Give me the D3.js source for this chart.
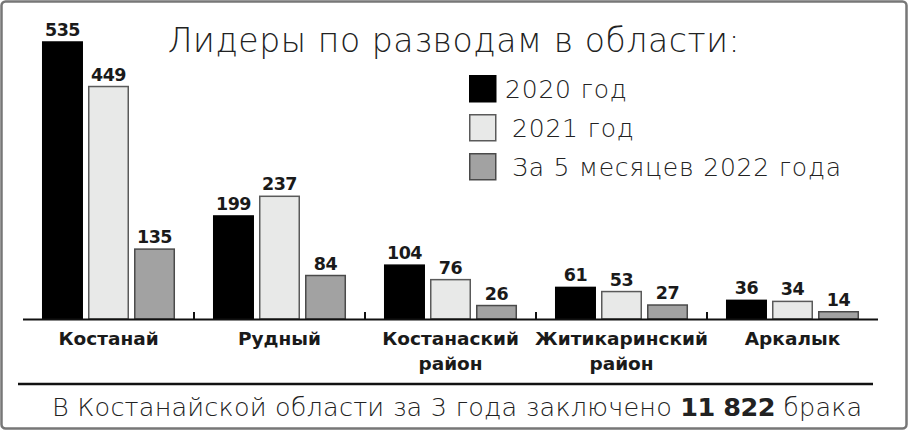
<!DOCTYPE html>
<html>
<head>
<meta charset="utf-8">
<script src="https://cdn.jsdelivr.net/npm/d3@7"></script>
<style>
  body { margin: 0; background: #fff; }
  svg { display: block; }
</style>
</head>
<body>
<svg id="chart" width="910" height="432"></svg>
<script>
// data
var categories = ["Костанай", "Рудный", "Костанаский район", "Житикаринский район", "Аркалык"];
var cat_lines = [["Костанай"], ["Рудный"], ["Костанаский", "район"], ["Житикаринский", "район"], ["Аркалык"]];
var series = ["2020 год", "2021 год", "За 5 месяцев 2022 года"];
var values_2020 = [535, 199, 104, 61, 36];
var values_2021 = [449, 237, 76, 53, 34];
var values_2022 = [135, 84, 26, 27, 14];
var title = "Лидеры по разводам в области:";

var all_values = [values_2020, values_2021, values_2022];
var fills = ["#000000", "#e8e9e8", "#a2a2a2"];
var strokes = ["#000000", "#5a5a5a", "#4a4a4a"];
var heavy = "'DejaVu Sans', sans-serif";
var light = "'DejaVu Sans', sans-serif";

var svg = d3.select("#chart");

// frame
svg.append("rect")
  .attr("x", 1.5).attr("y", 1.5)
  .attr("width", 905).attr("height", 427)
  .attr("rx", 4)
  .attr("fill", "none")
  .attr("stroke", "#777")
  .attr("stroke-width", 2.5);

var x0 = d3.scaleBand().domain(categories).range([23, 878])
  .paddingInner(0.222).paddingOuter(0.111);
var x1 = d3.scaleBand().domain(series).range([0, x0.bandwidth()]).paddingInner(0.109);
var y = d3.scaleLinear().domain([0, 535]).range([319, 42]);

// bars
for (var s = 0; s < series.length; s++){
    var g = svg.append("g");
    g.selectAll("rect")
      .data(all_values[s])
      .enter()
      .append("rect")
      .attr("x", function(d, i){ return x0(categories[i]) + x1(series[s]) + 0.75; })
      .attr("y", function(d){ return y(d); })
      .attr("width", x1.bandwidth() - 1.5)
      .attr("height", function(d){ return y(0) - y(d); })
      .attr("fill", fills[s])
      .attr("stroke", strokes[s])
      .attr("stroke-width", 1.5);

    g.selectAll("text")
      .data(all_values[s])
      .enter()
      .append("text")
      .text(function(d){ return d; })
      .attr("x", function(d, i){ return x0(categories[i]) + x1(series[s]) + x1.bandwidth() / 2; })
      .attr("y", function(d){ return y(d) - 6; })
      .attr("text-anchor", "middle")
      .attr("font-family", heavy)
      .attr("font-weight", "bold")
      .attr("font-size", 17.5)
      .attr("letter-spacing", -0.5)
      .attr("fill", "#1a1a1a");
}

// baseline and group ticks
svg.append("line")
  .attr("x1", 23).attr("x2", 878)
  .attr("y1", y(0) + 0.5).attr("y2", y(0) + 0.5)
  .attr("stroke", "#111").attr("stroke-width", 2);

var step = x0.step();
svg.selectAll(".sep")
  .data(categories.slice(0, categories.length - 1))
  .enter()
  .append("line")
  .attr("class", "sep")
  .attr("x1", function(d){ return x0(d) + x0.bandwidth() + (step - x0.bandwidth()) / 2; })
  .attr("x2", function(d){ return x0(d) + x0.bandwidth() + (step - x0.bandwidth()) / 2; })
  .attr("y1", y(0) - 7).attr("y2", y(0))
  .attr("stroke", "#111").attr("stroke-width", 2);

// category labels
cat_lines.forEach(function(lines, i){
    var t = svg.append("text")
      .attr("text-anchor", "middle")
      .attr("font-family", heavy)
      .attr("font-weight", "bold")
      .attr("font-size", 18.5)
      .attr("fill", "#1a1a1a");
    lines.forEach(function(l, k){
        t.append("tspan")
          .attr("x", x0(categories[i]) + x0.bandwidth() / 2)
          .attr("y", 345 + k * 25)
          .text(l);
    });
});

// title
svg.append("text")
  .text(title)
  .attr("x", 454).attr("y", 52)
  .attr("text-anchor", "middle")
  .attr("font-family", light)
  .attr("font-weight", 200)
  .attr("font-size", 33)
  .attr("letter-spacing", 0.6)
  .attr("fill", "#222");

// legend
var leg_x = [505, 512, 512];
series.forEach(function(name, i){
    svg.append("rect")
      .attr("x", 469.75).attr("y", 75.75 + i * 39)
      .attr("width", 26).attr("height", 26)
      .attr("fill", fills[i])
      .attr("stroke", strokes[i])
      .attr("stroke-width", 1.5);
    svg.append("text")
      .text(name)
      .attr("x", leg_x[i]).attr("y", 98 + i * 39)
      .attr("font-family", light)
      .attr("font-weight", 200)
      .attr("font-size", 25)
      .attr("letter-spacing", 0.8)
      .attr("fill", "#222");
});

// footer
svg.append("line")
  .attr("x1", 18).attr("x2", 873)
  .attr("y1", 384).attr("y2", 384)
  .attr("stroke", "#111").attr("stroke-width", 2.5);

var foot = svg.append("text")
  .attr("x", 52).attr("y", 416)
  .attr("font-family", light)
  .attr("font-weight", 200)
  .attr("font-size", 25.5)
  .attr("letter-spacing", 0.2)
  .attr("fill", "#222");
foot.append("tspan").text("В Костанайской области за 3 года заключено ");
foot.append("tspan").attr("font-family", heavy).attr("font-weight", "bold").attr("letter-spacing", -0.5).text("11 822");
foot.append("tspan").text(" брака");
</script>
</body>
</html>
